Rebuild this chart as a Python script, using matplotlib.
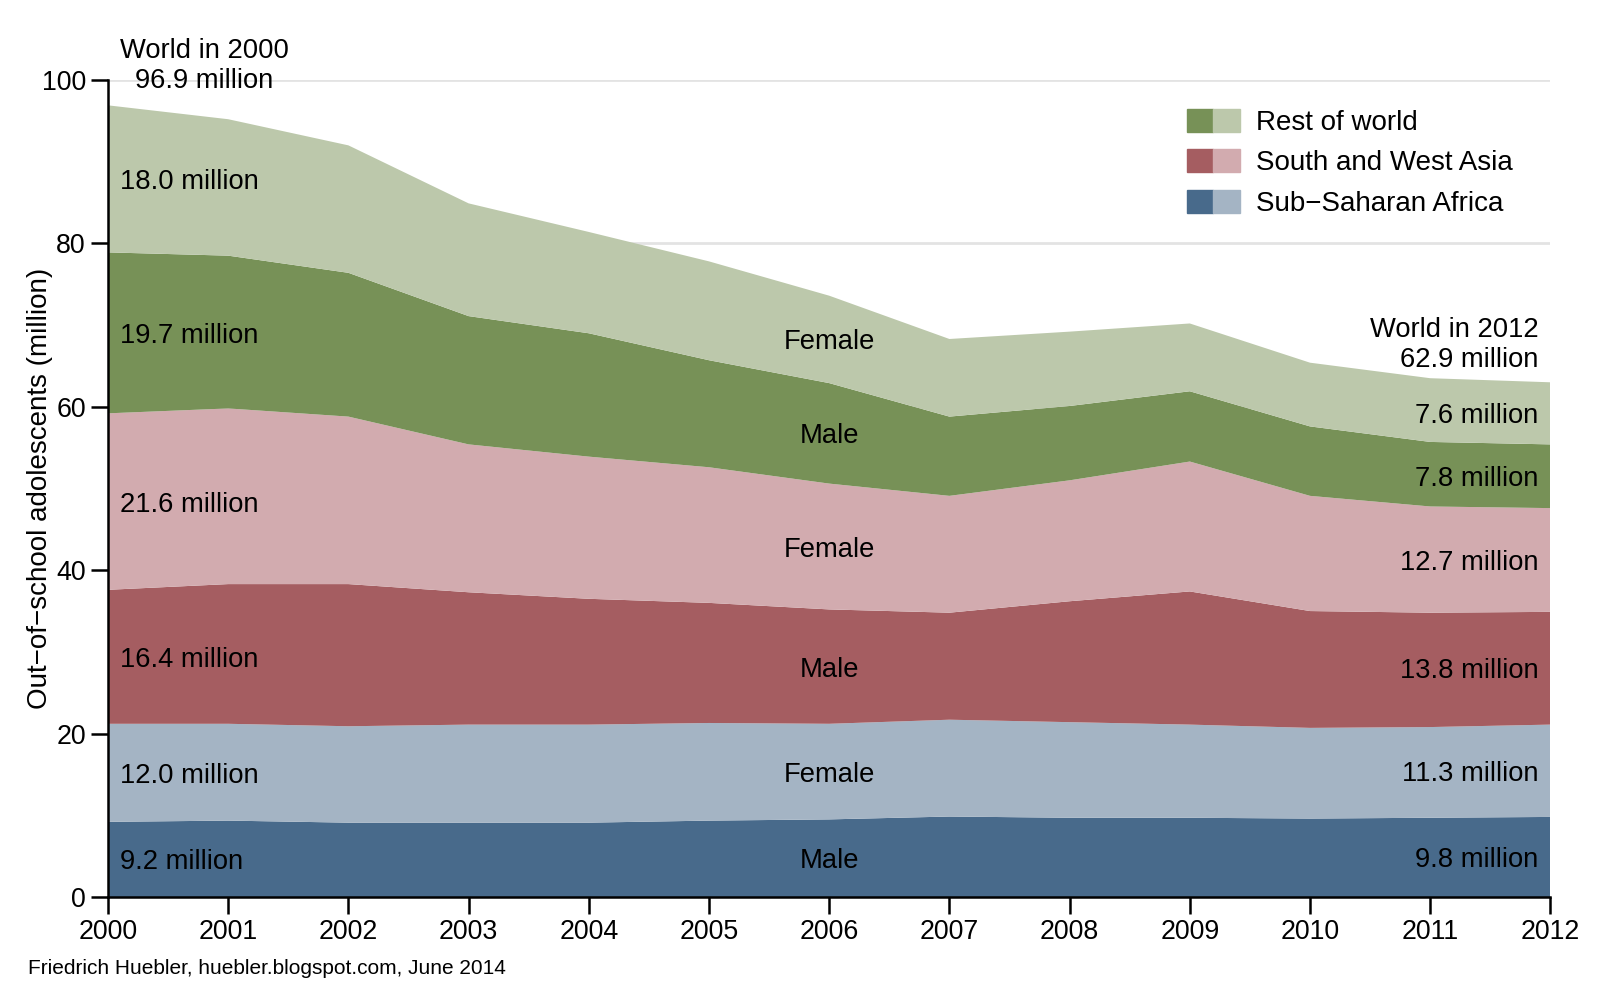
import numpy as np
import matplotlib.pyplot as plt
from matplotlib.patches import Patch
from matplotlib.legend_handler import HandlerTuple

plt.rcParams['font.family'] = ['Liberation Sans', 'DejaVu Sans']

# Data (million out-of-school adolescents)
years = np.arange(2000, 2013)
ssa_male = [9.2, 9.35, 9.1, 9.1, 9.1, 9.35, 9.5, 9.85, 9.7, 9.7, 9.6, 9.7, 9.8]
ssa_female = [12.0, 11.85, 11.8, 12.0, 12.0, 11.95, 11.7, 11.85, 11.7, 11.4, 11.1, 11.1, 11.3]
swa_male = [16.4, 17.1, 17.4, 16.2, 15.4, 14.7, 14.0, 13.1, 14.8, 16.3, 14.3, 14.0, 13.8]
swa_female = [21.6, 21.5, 20.5, 18.1, 17.4, 16.6, 15.4, 14.3, 14.8, 15.9, 14.1, 13.0, 12.7]
row_male = [19.7, 18.7, 17.6, 15.7, 15.1, 13.1, 12.3, 9.7, 9.1, 8.6, 8.5, 7.9, 7.8]
row_female = [18.0, 16.7, 15.6, 13.8, 12.4, 12.1, 10.7, 9.5, 9.1, 8.3, 7.8, 7.8, 7.6]

# printed labels (bottom to top)
left_vals = [9.2, 12.0, 16.4, 21.6, 19.7, 18.0]
right_vals = [9.8, 11.3, 13.8, 12.7, 7.8, 7.6]
mid_labels = ["Male", "Female", "Male", "Female", "Male", "Female"]
world_2000 = 96.9
world_2012 = 62.9

regions = ["Rest of world", "South and West Asia", "Sub\u2212Saharan Africa"]
dark = ['#779157', '#a55d61', '#486a8b']
light = ['#bcc8ab', '#d2abaf', '#a4b4c4']

series = [ssa_male, ssa_female, swa_male, swa_female, row_male, row_female]
colors = [dark[2], light[2], dark[1], light[1], dark[0], light[0]]

fs = 19.7  # text size inside the plot

fig = plt.figure(figsize=(16, 10), dpi=100)
ax = fig.add_axes([0.0675, 0.103, 0.9015, 0.817])

ax.set_axisbelow(True)
ax.grid(axis='y', color='#e3e3e3', linewidth=2)
ax.stackplot(years, *series, colors=colors, linewidth=0)

ax.set_xlim(2000, 2012)
ax.set_ylim(0, 100)
ax.set_xticks(years)
ax.set_yticks(np.arange(0, 101, 20))
ax.tick_params(labelsize=19.3, length=12, width=1.8, direction='out', pad=4)
for s in ['top', 'right']:
    ax.spines[s].set_visible(False)
for s in ['left', 'bottom']:
    ax.spines[s].set_linewidth(1.8)

ax.set_ylabel("Out\u2212of\u2212school adolescents (million)", fontsize=20)
ax.yaxis.set_label_coords(-0.038, 0.5)

# labels in the middle of each band
cum = np.cumsum(np.array(series), axis=0)
mids = cum - np.array(series) / 2
for i in range(6):
    ax.text(2000.1, mids[i, 0], f"{left_vals[i]:.1f} million", ha='left', va='center_baseline', fontsize=fs)
    ax.text(2011.9, mids[i, -1], f"{right_vals[i]:.1f} million", ha='right', va='center_baseline', fontsize=fs)
    ax.text(2006, mids[i, 6], mid_labels[i], ha='center', va='center_baseline', fontsize=fs)

ax.text(2000.8, 101.7, f"World in 2000\n{world_2000:.1f} million", ha='center', va='center',
        multialignment='center', fontsize=fs, clip_on=False)
ax.text(2011.9, 67.6, f"World in 2012\n{world_2012:.1f} million", ha='right', va='center',
        multialignment='right', fontsize=fs)

handles = [(Patch(color=dark[k]), Patch(color=light[k])) for k in range(3)]
ax.legend(handles, regions, handler_map={tuple: HandlerTuple(ndivide=None, pad=0)},
          loc='upper left', bbox_to_anchor=(0.748, 0.965), frameon=False, fontsize=20,
          handlelength=1.9, handleheight=0.9, handletextpad=0.58, labelspacing=0.49,
          borderpad=0, borderaxespad=0)

fig.text(0.0175, 0.031, "Friedrich Huebler, huebler.blogspot.com, June 2014", fontsize=15,
         ha='left', va='center')

fig.savefig('out.png', dpi=100)
